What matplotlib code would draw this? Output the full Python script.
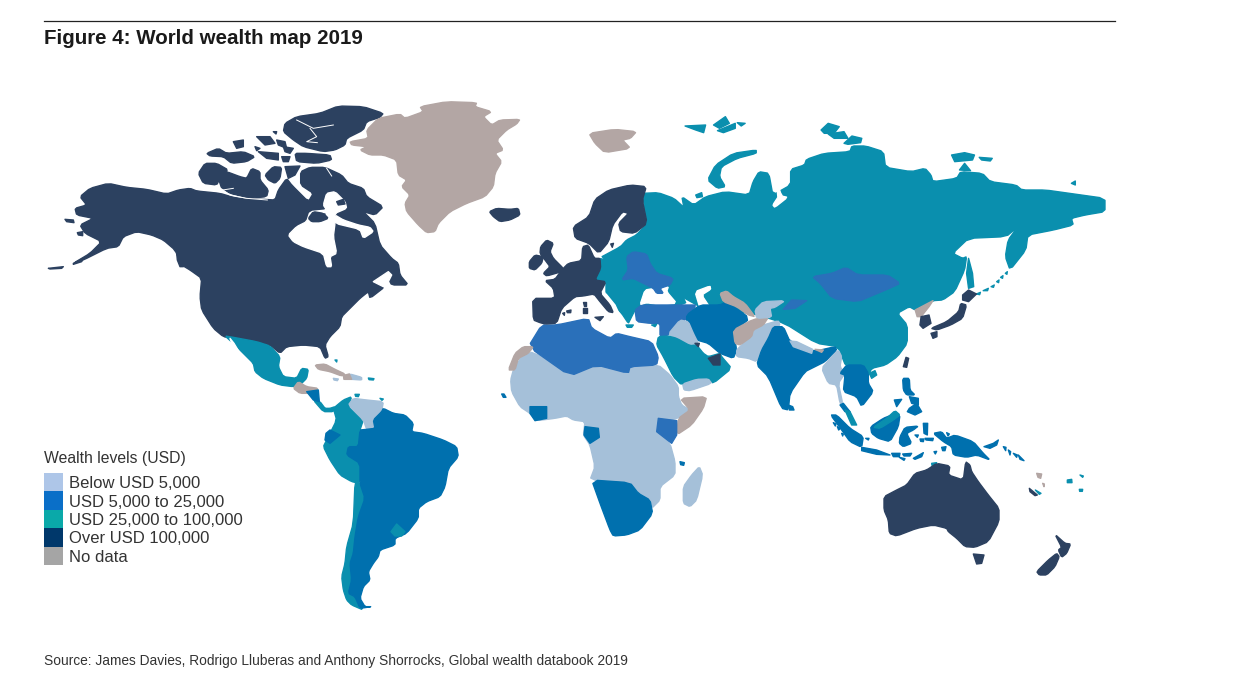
import matplotlib
matplotlib.use('Agg')
import matplotlib.pyplot as plt
from matplotlib.patches import Polygon

plt.rcParams['font.family'] = ['Liberation Sans', 'DejaVu Sans']

title = 'Figure 4: World wealth map 2019'
legend_title = 'Wealth levels (USD)'
legend_labels = ['Below USD 5,000', 'USD 5,000 to 25,000', 'USD 25,000 to 100,000', 'Over USD 100,000', 'No data']
legend_colors = ['#aec6e8', '#0a6fc8', '#0aa9a9', '#00386b', '#a5a5a5']
source = 'Source: James Davies, Rodrigo Lluberas and Anthony Shorrocks, Global wealth databook 2019'

LOW = '#a5c0d9'
MID = '#2a70ba'
BLUE = '#0070ae'
TEAL = '#0a8fae'
DARK = '#2c4160'
GREY = '#b3a6a4'
WATER = '#ffffff'

north_america = [(150,320),(180,295),(235,280),(290,292),(350,298),(410,312),(445,300),(480,295),(500,303),(570,310),(610,322),(650,328),(700,328),(735,330),(745,300),(770,265),(785,285),(835,335),(850,310),(812,285),(812,245),(840,232),(885,232),(935,255),(955,280),(1000,295),(1010,320),(1060,350),(1035,375),(1000,365),(1035,400),(1050,465),(1085,505),(1105,520),(1110,555),(1135,585),(1085,585),(1075,565),(1030,575),(1065,590),(1020,625),(1015,605),(990,625),(960,655),(935,680),(930,710),(900,740),(885,765),(895,800),(885,805),(870,770),(820,765),(770,770),(750,790),(720,765),(680,755),(610,745),(580,740),(550,715),(515,660),(510,620),(515,565),(480,540),(455,525),(435,480),(400,450),(365,435),(320,425),(280,440),(265,470),(230,475),(160,510),(130,520),(180,490),(215,455),(165,430),(150,405),(190,385),(140,375),(135,355),(170,345)]
hudson_bay = [(775,435),(800,410),(830,395),(840,365),(890,360),(880,345),(890,310),(915,305),(945,335),(950,355),(915,370),(915,400),(910,440),(920,490),(900,500),(905,530),(890,530),(880,490),(820,470),(790,455)]
hudson_strait = [(915,375),(940,390),(985,405),(1020,412),(1030,425),(1000,445),(990,418),(915,400)]
st_lawrence = [(1030,575),(1075,545),(1085,555),(1075,575),(1060,590)]
arctic_canada = [
    [(835,385),(850,365),(880,370),(895,385),(870,395),(845,395)],
    [(920,335),(940,328),(945,342),(925,345)],
    [(765,100),(800,80),(870,70),(925,48),(1000,50),(1060,70),(1050,82),(1010,95),(1000,120),(950,145),(945,165),(915,180),(880,185),(820,170),(790,150),(760,125)],
    [(795,190),(830,190),(900,195),(905,210),(860,220),(800,215)],
    [(505,250),(525,220),(560,220),(595,240),(570,265),(560,285),(520,280)],
    [(565,265),(590,245),(630,260),(650,265),(665,235),(690,245),(690,270),(715,300),(710,320),(660,325),(600,310),(575,295)],
    [(705,255),(730,230),(755,232),(750,265),(735,280),(715,270)],
    [(765,230),(810,228),(795,255),(775,265)],
    [(530,190),(565,175),(590,190),(640,185),(675,200),(650,215),(605,220),(580,200),(540,198)],
    [(680,140),(720,140),(735,160),(705,165)],
    [(740,150),(765,155),(770,175),(745,165)],
    [(610,155),(640,150),(640,170),(620,175)],
    [(685,185),(745,190),(745,210),(710,205)],
    [(755,200),(780,200),(775,215),(760,215)],
    [(760,170),(790,175),(780,190),(765,185)],
    [(675,170),(690,175),(680,182)],
    [(730,125),(740,125),(738,132)],
    [(55,535),(100,530),(95,535),(60,537)],
    [(130,520),(160,505),(155,515),(130,523)],
    [(105,388),(130,390),(132,398),(110,395)],
    [(142,428),(158,425),(158,437),(145,435)],
    [(440,490),(450,505),(460,530),(450,530),(442,510)],
    [(860,375),(885,372),(880,382)],
]
arctic_channels = [
    [(800,90),(850,115),(910,105)],
    [(840,115),(860,140),(830,155),(862,158)],
    [(575,297),(600,315),(650,325),(712,330)],
    [(890,235),(905,258)],
    [(578,300),(610,295)],
]
greenland = [(960,155),(1015,145),(1010,120),(1045,85),(1110,72),(1125,85),(1180,65),(1170,50),(1250,35),(1340,38),(1335,50),(1385,65),(1360,80),(1385,105),(1410,90),(1470,88),(1460,102),(1430,120),(1400,150),(1420,180),(1395,190),(1415,215),(1395,250),(1390,290),(1365,320),(1310,340),(1260,365),(1225,400),(1215,425),(1190,428),(1165,405),(1130,365),(1125,340),(1140,315),(1115,290),(1130,270),(1105,255),(1100,210),(1060,195),(1020,195),(990,180),(1010,170),(965,165)]
iceland = [(1378,365),(1400,355),(1440,358),(1465,355),(1470,375),(1440,390),(1410,395),(1390,380)]
mexico = [(585,738),(610,742),(680,755),(720,768),(750,800),(745,830),(760,860),(800,865),(815,835),(835,838),(830,865),(810,885),(790,890),(750,885),(700,865),(675,845),(670,820),(640,790),(610,760)]
baja_gulf = [(600,745),(612,760),(645,815),(635,810),(610,775)]

# South America, Africa and the Caribbean crop
costa_rica = [(100,150),(120,155),(135,175),(150,175),(165,170),(160,185),(130,185)]
guatemala = [(40,115),(55,95),(80,110),(115,115),(100,130),(60,130)]
honduras = [(80,125),(115,120),(118,155),(100,150)]
andes = [(160,175),(190,150),(215,140),(205,170),(250,210),(240,240),(235,290),(205,290),(200,315),(240,340),(240,400),(215,395),(180,375),(150,330),(130,290),(140,270),(170,210)]
chile = [(225,395),(240,400),(255,445),(235,500),(225,560),(220,610),(210,640),(215,690),(205,730),(230,745),(250,780),(215,765),(200,750),(190,720),(185,680),(195,640),(200,590),(220,520)]
ecuador = [(138,250),(150,240),(180,255),(150,280),(135,270)]
venezuela = [(205,165),(220,145),(260,150),(310,155),(305,185),(280,210),(285,235),(260,238),(250,210)]
brazil_argentina = [(310,175),(340,190),(375,195),(400,220),(395,245),(430,250),(490,270),(530,290),(535,320),(505,355),(495,410),(480,440),(440,455),(415,475),(415,505),(380,550),(345,565),(345,585),(300,600),(295,620),(280,640),(265,665),(270,690),(250,710),(240,745),(255,770),(275,770),(240,775),(225,740),(205,730),(215,690),(210,640),(220,610),(225,560),(235,500),(255,445),(240,400),(240,340),(200,315),(205,290),(235,290),(240,240),(260,238),(285,235),(280,210),(305,185)]
uruguay = [(333,545),(350,522),(375,545),(365,558),(345,558)]
cuba = [(105,45),(135,42),(165,58),(195,72),(185,78),(150,65),(115,58)]
hispaniola = [(195,78),(210,72),(245,82),(245,90),(215,88),(192,88)]
dominican = [(190,76),(208,72),(215,88),(192,88)]
jamaica = [(160,85),(175,87),(172,92),(162,90)]
caribbean_bits = [[(265,84),(282,86),(280,90),(267,89)], [(225,133),(238,133),(235,140),(227,139)], [(300,145),(310,147),(306,151)], [(165,30),(171,30),(170,36)]]
africa = [(692,90),(700,60),(725,20),(760,5),(870,78),(935,42),(1035,70),(1050,45),(1135,45),(1170,75),(1195,110),(1195,140),(1205,165),(1230,180),(1195,205),(1135,215),(1130,245),(1170,280),(1185,335),(1185,375),(1140,410),(1140,450),(1115,475),(1080,430),(1050,400),(930,390),(945,350),(930,285),(910,255),(915,215),(880,210),(860,198),(825,205),(770,212),(750,190),(720,170),(695,125)]
somalia = [(1200,145),(1280,140),(1270,175),(1235,225),(1190,255),(1195,205),(1230,180)]
kenya = [(1130,245),(1135,205),(1190,212),(1190,255),(1175,280)]
ivory_coast = [(750,170),(800,170),(800,205),(765,212),(750,190)]
cameroon = [(912,255),(915,230),(955,235),(958,262),(930,280)]
south_africa = [(935,390),(1050,398),(1075,430),(1110,450),(1118,490),(1080,540),(1040,555),(1000,558),(990,540),(960,460)]
madagascar = [(1210,410),(1235,375),(1258,350),(1268,375),(1250,450),(1230,470),(1210,460)]
africa_bits = [[(665,132),(672,132),(678,142),(670,142)], [(1200,335),(1213,338),(1211,346),(1202,344)]]

# Russia and the far north crop
russia_china = [(360,250),(400,248),(440,265),(465,292),(460,260),(490,285),(520,260),(570,245),(630,255),(640,215),(655,185),(680,190),(690,255),(735,225),(735,178),(770,165),(775,148),(820,130),(885,125),(890,108),(925,108),(970,125),(975,172),(1040,185),(1075,175),(1090,195),(1095,215),(1155,205),(1165,185),(1220,190),(1240,215),(1305,225),(1320,240),(1380,240),(1440,250),(1530,265),(1530,305),(1480,315),(1445,325),(1450,345),(1400,360),(1335,375),(1330,420),(1290,480),(1278,440),(1285,390),(1310,350),(1280,380),(1185,385),(1145,430),(1170,445),(1180,440),(1175,480),(1150,545),(1120,570),(1095,572),(1050,600),(1035,590),(1005,610),(1030,645),(1030,700),(1005,740),(975,765),(940,775),(930,800),(875,770),(855,710),(800,700),(720,640),(640,610),(520,600),(430,540),(372,500),(250,445),(305,410),(320,390),(345,375),(372,340)]
ob_gulf = [(683,190),(695,195),(712,258),(727,262),(695,292),(690,285),(705,258)]
mongolia = [(790,500),(840,490),(875,472),(905,495),(980,495),(1012,520),(985,535),(955,550),(905,575),(840,565),(810,520)]
sakhalin = [(1185,445),(1195,490),(1198,530),(1185,535),(1180,490)]
kurils = [[(1205,552),(1215,547),(1213,554)], [(1222,542),(1235,535),(1233,542)], [(1242,530),(1250,525),(1248,532)], [(1256,515),(1262,510),(1261,518)], [(1266,502),(1272,497),(1271,505)], [(1278,490),(1283,485),(1282,493)]]
north_korea = [(1050,600),(1095,572),(1085,590),(1065,620),(1055,620)]
south_korea = [(1065,620),(1085,615),(1090,640),(1070,655),(1062,645)]
japan = [
    [(1170,555),(1185,540),(1205,552),(1185,575),(1170,570)],
    [(1165,580),(1180,585),(1170,625),(1140,645),(1105,660),(1090,655),(1130,635),(1160,605)],
    [(1090,670),(1105,665),(1105,680),(1095,685)],
]
russian_islands = [
    [(525,210),(545,165),(590,130),(648,120),(648,130),(600,145),(560,170),(555,200),(570,230),(550,235)],
    [(468,48),(520,45),(515,68),(495,60)],
    [(540,45),(570,20),(580,40),(555,55)],
    [(550,62),(595,40),(595,55),(565,68)],
    [(600,38),(620,40),(610,48)],
    [(812,60),(830,40),(858,50),(845,70),(820,70)],
    [(830,72),(870,65),(880,85),(845,85)],
    [(870,100),(890,78),(915,85),(912,98),(880,103)],
    [(1142,135),(1175,128),(1200,135),(1195,150),(1150,155)],
    [(1212,142),(1245,145),(1240,153),(1218,150)],
    [(1162,180),(1175,160),(1190,182)],
    [(1445,220),(1455,213),(1455,225)],
    [(495,255),(510,248),(512,260),(498,263)],
]
svalbard = [(225,70),(290,58),(345,65),(330,85),(310,90),(330,115),(265,128),(240,100)]
scandinavia = [(240,268),(275,240),(330,225),(370,230),(360,270),(372,340),(340,370),(305,365),(300,340),(325,310),(310,305),(285,345),(275,395),(250,430),(225,400),(190,385),(185,350),(225,320)]
bothnia_islands = [(280,402),(287,400),(284,412)]

# Europe, Middle East and South Asia crop
east_europe = [(297,85),(320,90),(380,80),(400,65),(440,72),(520,100),(540,180),(560,225),(425,225),(405,240),(390,270),(385,280),(365,250),(345,230),(318,190),(318,155),(285,150),(302,115)]
adriatic = [(318,192),(345,225),(362,262),(350,258),(325,215)]
black_sea = [(420,225),(435,180),(465,175),(490,190),(480,170),(505,170),(500,185),(530,220),(480,225),(440,218)]
caspian = [(585,185),(630,168),(632,178),(605,195),(635,240),(635,265),(608,265),(600,235)]
north_africa = [(85,350),(125,285),(170,285),(265,265),(275,295),(330,325),(350,310),(390,320),(455,335),(475,380),(470,405),(390,410),(385,430),(290,405),(210,438)]
west_sahara = [(25,420),(45,370),(70,350),(100,350),(85,370),(55,385),(45,420)]
great_britain = [(122,50),(140,30),(160,40),(150,65),(160,85),(190,115),(185,125),(140,138),(130,130),(150,110),(135,90),(120,70)]
ireland = [(88,95),(105,75),(130,80),(125,100),(105,120),(88,115)]
west_europe = [(135,152),(165,148),(185,120),(205,100),(245,92),(248,50),(265,45),(283,85),(300,85),(302,115),(285,150),(318,155),(300,190),(330,225),(340,248),(325,245),(300,215),(282,192),(250,198),(225,200),(185,235),(170,280),(135,282),(120,278),(100,270),(98,205),(165,205),(160,175)]
med_islands = [[(285,262),(310,260),(300,272)], [(250,215),(258,215),(258,228),(251,228)], [(248,235),(260,235),(260,250),(248,250)], [(188,250),(194,248),(193,256)], [(200,243),(213,240),(212,248),(202,248)]]
ukraine = [(380,80),(400,65),(440,72),(450,100),(470,130),(520,145),(510,165),(480,175),(490,190),(470,190),(460,175),(430,160),(400,145),(365,150),(385,120)]
turkey_iraq = [(405,240),(425,225),(480,225),(560,225),(590,225),(555,270),(520,305),(505,315),(480,320),(480,280),(450,280),(410,275)]
iran_pakistan = [(560,255),(600,225),(660,225),(680,215),(750,265),(700,305),(710,360),(700,385),(660,370),(625,340),(590,330),(560,285)]
iraq = [(505,312),(540,270),(565,275),(580,310),(595,340),(570,347),(530,325)]
arabia = [(475,320),(505,318),(530,325),(570,347),(590,345),(610,370),(625,380),(660,370),(665,380),(695,415),(640,460),(625,447),(590,448),(545,465),(520,440),(490,380),(470,345)]
gulf_states = [[(625,385),(660,372),(660,405),(640,405)], [(585,340),(598,340),(595,350)]]
yemen = [(548,462),(590,448),(625,447),(635,460),(570,482),(552,480)]
afghanistan = [(700,300),(760,268),(805,262),(790,285),(760,300),(755,320),(720,345),(705,340)]
pakistan = [(710,360),(725,345),(755,320),(762,300),(790,285),(835,272),(840,285),(805,325),(785,360),(770,395),(745,385),(710,380)]
turkmenistan = [(660,190),(680,183),(700,200),(735,220),(765,260),(745,255),(710,230),(670,215)]
tajikistan = [(765,240),(790,215),(855,212),(825,232),(810,235),(815,262),(770,265)]
kyrgyzstan = [(850,238),(875,210),(920,212),(885,235)]
india = [(820,290),(850,290),(870,335),(940,365),(1005,350),(1010,360),(975,395),(945,410),(915,425),(870,490),(865,540),(845,535),(805,440),(770,405),(785,360),(805,325)]
nepal = [(870,333),(890,335),(938,358),(935,370),(880,350)]
bhutan = [(945,358),(970,360),(965,367)]
sri_lanka = [(865,525),(878,530),(882,540),(868,540)]
cyprus = [[(378,285),(400,285),(395,292),(382,292)], [(455,285),(470,283),(465,290)]]

# Southeast Asia and Oceania crop
myanmar = [(65,85),(95,50),(115,30),(125,50),(120,80),(135,100),(115,130),(128,190),(120,190),(110,135),(85,130)]
indochina = [(120,100),(140,75),(190,75),(205,100),(205,130),(220,155),(185,200),(170,170),(130,155),(135,105)]
malay_north = [(120,195),(130,190),(150,215),(135,215)]
malaysia = [(135,210),(150,215),(170,255),(155,255)]
hainan = [(208,100),(225,92),(230,105),(215,115)]
taiwan = [(310,80),(318,52),(326,55),(320,82)]
se_asia_islands = [
    [(92,225),(110,225),(150,265),(190,290),(185,322),(150,305),(125,270)],
    [(185,322),(230,330),(270,345),(230,343),(185,332)],
    [(212,260),(250,235),(275,225),(300,225),(295,260),(270,305),(235,295),(215,280)],
    [(300,290),(315,262),(355,258),(340,270),(320,280),(335,310),(310,320),(298,310)],
    [(308,115),(328,115),(330,150),(345,165),(320,165),(310,150)],
    [(328,205),(350,190),(365,215),(345,225),(322,215)],
    [(328,170),(355,175),(355,195),(335,190)],
    [(400,280),(425,275),(440,295),(465,285),(520,305),(550,340),(570,360),(530,345),(500,352),(460,345),(455,320),(430,305)],
    [(552,320),(580,310),(595,300),(590,315),(570,325)],
    [(340,355),(370,338),(365,350),(345,358)],
    [(370,250),(383,250),(382,285),(372,280)],
    [(375,295),(400,295),(398,302),(378,300)],
    [(345,285),(355,285),(352,292)],
    [(360,297),(372,297),(370,305),(362,304)],
    [(275,340),(300,340),(298,350),(280,350)],
    [(308,342),(335,340),(330,348),(312,348)],
    [(298,352),(315,356),(312,361)],
    [(283,180),(305,178),(290,200)],
    [(425,322),(438,320),(435,332),(428,332)],
    [(610,320),(618,322),(617,332)],
    [(625,330),(632,335),(630,345)],
    [(640,340),(652,345),(650,352)],
    [(655,345),(672,362),(660,358)],
    [(100,248),(108,252),(106,258)],
    [(112,260),(120,266),(116,270)],
    [(125,280),(130,282),(128,288)],
    [(197,295),(207,295),(205,300)],
    [(402,335),(410,334),(406,342)],
    [(440,278),(448,282),(444,288)],
]
borneo_north = [(220,262),(260,235),(285,212),(300,225),(280,240),(240,265)]
timor_sea_isle = [(395,370),(410,368),(408,376),(396,376)]
australia = [(252,470),(290,450),(320,435),(345,400),(380,390),(410,370),(450,378),(445,405),(490,420),(497,365),(510,375),(515,395),(535,425),(565,465),(597,505),(597,545),(565,605),(525,622),(495,620),(470,595),(445,575),(440,565),(400,555),(350,565),(290,588),(268,580),(265,540),(252,510)]
tasmania = [(520,642),(552,645),(545,670),(530,672)]
new_zealand = [[(765,583),(795,610),(812,612),(800,640),(785,652),(775,630),(785,622)], [(710,695),(745,660),(770,640),(778,650),(765,680),(740,705),(718,705)]]
new_caledonia = [(688,445),(712,465),(705,467),(690,455)]
pacific_bits = [[(706,450),(723,460),(718,463)], [(802,420),(815,418),(816,428),(802,428)], [(840,405),(850,408),(848,412)], [(838,448),(848,448),(847,454),(839,454)]]
pacific_grey = [[(710,400),(725,402),(722,415),(714,412)], [(728,430),(733,432),(732,440)]]

NA = (30, 90, 1/3, 1/3)
SA = (280, 350, 1/3, 1/3)
EU = (500, 230, 1/3, 1/3)
RU = (500, 110, 620/1568, 1/3)
AS = (800, 340, 1/3, 1/3)

fig = plt.figure(figsize=(12.38, 6.87), dpi=100)
ax = fig.add_axes([0, 0, 1, 1])
ax.set_xlim(0, 1238)
ax.set_ylim(687, 0)
ax.axis('off')


def round_corners(xy):
    # light corner cutting, the traced outlines are too angular otherwise
    out = []
    for i in range(len(xy)):
        (x1, y1), (x2, y2) = xy[i], xy[(i + 1) % len(xy)]
        out.append((0.85 * x1 + 0.15 * x2, 0.85 * y1 + 0.15 * y2))
        out.append((0.15 * x1 + 0.85 * x2, 0.15 * y1 + 0.85 * y2))
    return out


def shape(pts, crop, color):
    x0, y0, sx, sy = crop
    xy = [(x0 + x * sx, y0 + y * sy) for x, y in pts]
    if len(xy) >= 6:
        xy = round_corners(xy)
    ax.add_patch(Polygon(xy, closed=True, facecolor=color, edgecolor=color, lw=1.0, joinstyle='round'))


def shapes(lists, crop, color):
    for pts in lists:
        shape(pts, crop, color)


# painted in order, water and small countries go over the big outlines
shape(north_america, NA, DARK)
shape(hudson_bay, NA, WATER)
shape(hudson_strait, NA, WATER)
shape(st_lawrence, NA, WATER)
shapes(arctic_canada, NA, DARK)
for line in arctic_channels:
    ax.plot([30 + p[0] / 3 for p in line], [90 + p[1] / 3 for p in line], color=WATER, lw=0.7)
shape(greenland, NA, GREY)
shape(iceland, NA, DARK)
shape(mexico, NA, TEAL)
shape(baja_gulf, NA, WATER)

shape(costa_rica, SA, TEAL)
shape(guatemala, SA, GREY)
shape(honduras, SA, BLUE)
shape(andes, SA, TEAL)
shape(chile, SA, TEAL)
shape(ecuador, SA, BLUE)
shape(venezuela, SA, LOW)
shape(brazil_argentina, SA, BLUE)
shape(uruguay, SA, TEAL)
shape(cuba, SA, GREY)
shape(hispaniola, SA, LOW)
shape(dominican, SA, GREY)
shape(jamaica, SA, LOW)
shapes(caribbean_bits, SA, TEAL)
shape(africa, SA, LOW)
shape(somalia, SA, GREY)
shape(kenya, SA, MID)
shape(ivory_coast, SA, BLUE)
shape(cameroon, SA, BLUE)
shape(south_africa, SA, BLUE)
shape(madagascar, SA, LOW)
shapes(africa_bits, SA, BLUE)

shape(russia_china, RU, TEAL)
shape(ob_gulf, RU, WATER)
shape(mongolia, RU, MID)
shape(sakhalin, RU, TEAL)
shapes(kurils, RU, TEAL)
shape(north_korea, RU, GREY)
shape(south_korea, RU, DARK)
shapes(japan, RU, DARK)
shapes(russian_islands, RU, TEAL)
shape(svalbard, RU, GREY)

shape(east_europe, EU, TEAL)
shape(black_sea, EU, WATER)
shape(caspian, EU, WATER)
shape(north_africa, EU, MID)
shape(west_sahara, EU, GREY)
shape(great_britain, EU, DARK)
shape(ireland, EU, DARK)
shape(adriatic, EU, WATER)
shape(west_europe, EU, DARK)
shapes(med_islands, EU, DARK)
shape(ukraine, EU, MID)
shape(turkey_iraq, EU, MID)
shape(iran_pakistan, EU, BLUE)
shape(iraq, EU, LOW)
shape(arabia, EU, TEAL)
shapes(gulf_states, EU, DARK)
shape(yemen, EU, LOW)
shape(pakistan, EU, LOW)
shape(afghanistan, EU, GREY)
shape(turkmenistan, EU, GREY)
shape(tajikistan, EU, LOW)
shape(kyrgyzstan, EU, MID)
shape(india, EU, BLUE)
shape(nepal, EU, LOW)
shape(bhutan, EU, GREY)
shape(sri_lanka, EU, BLUE)
shapes(cyprus, EU, TEAL)

shape(scandinavia, RU, DARK)
shape(bothnia_islands, RU, DARK)

shape(myanmar, AS, LOW)
shape(indochina, AS, BLUE)
shape(malay_north, AS, BLUE)
shape(malaysia, AS, TEAL)
shape(hainan, AS, TEAL)
shape(taiwan, AS, DARK)
shapes(se_asia_islands, AS, BLUE)
shape(borneo_north, AS, TEAL)
shape(timor_sea_isle, AS, TEAL)
shape(australia, AS, DARK)
shape(tasmania, AS, DARK)
shapes(new_zealand, AS, DARK)
shape(new_caledonia, AS, DARK)
shapes(pacific_bits, AS, TEAL)
shapes(pacific_grey, AS, GREY)

# header and footer
ax.plot([44, 1115], [21, 21], color='#222222', lw=0.9)
ax.text(44, 38, title, fontsize=14.75, fontweight='bold', color='#1a1a1a', va='center', ha='left')
ax.text(44, 661, source, fontsize=9.93, color='#333333', va='center', ha='left')

# legend
ax.text(44, 458, legend_title, fontsize=11.3, color='#333333', va='center', ha='left')
for i, (lab, col) in enumerate(zip(legend_labels, legend_colors)):
    ax.bar(53.5, 18.4, width=19, bottom=473 + i * 18.4, color=col, lw=0)
    ax.text(69, 484 + i * 18.3, lab, fontsize=12, color='#333333', va='center', ha='left')

fig.savefig('out.png', dpi=100)
